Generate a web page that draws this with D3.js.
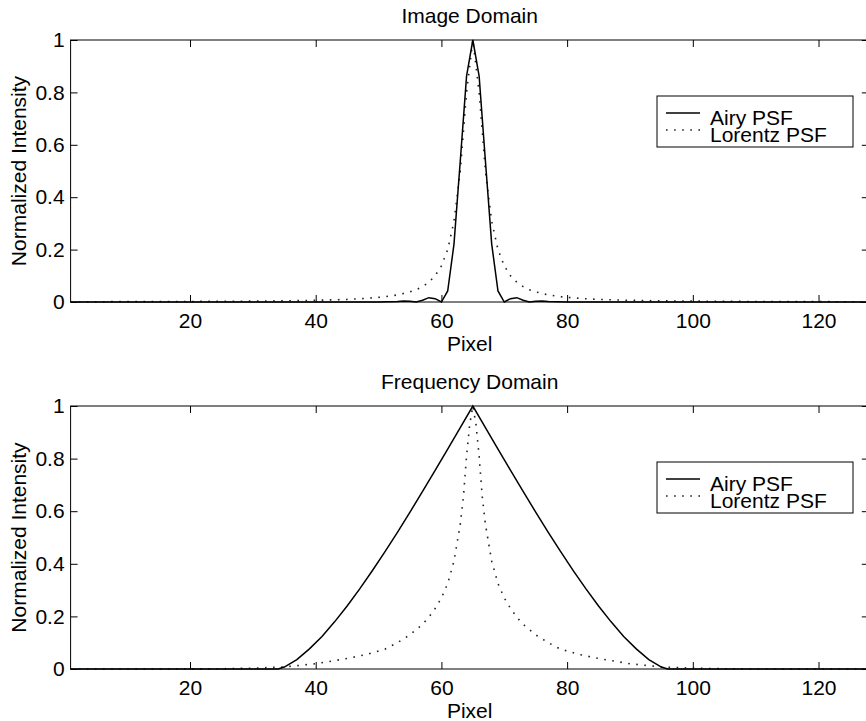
<!DOCTYPE html>
<html>
<head>
<meta charset="utf-8">
<title>Image / Frequency Domain PSF</title>
<style>
  body { margin: 0; background: #fff; }
  svg text { font-family: "Liberation Sans", Arial, Helvetica, sans-serif; font-size: 21px; fill: #000; }
  .axis path { display: none; }
  .axis line { stroke: #000; stroke-width: 1; }
  .airy { fill: none; stroke: #000; stroke-width: 1.5; }
  .lorentz { fill: none; stroke: #222; stroke-width: 1.6; stroke-dasharray: 1.6 6.5; }
</style>
<script src="https://cdn.jsdelivr.net/npm/d3@7"></script>
</head>
<body>
<script>
// ---- data ----
var xTicks = [20, 40, 60, 80, 100, 120];
var yTicks = [0, 0.2, 0.4, 0.6, 0.8, 1];

// image domain, Airy PSF
var imgAiryX = [1, 50, 53, 54, 55, 56, 57, 58, 59, 60, 61, 62, 63, 64, 65, 66, 67, 68, 69, 70, 71, 72, 73, 74, 75, 76, 77, 80, 128];
var imgAiry  = [0, 0, 0.002, 0.004, 0.0025, 0.0001, 0.0067, 0.0165, 0.0128, 0, 0.042, 0.221, 0.538, 0.862, 1,
                0.862, 0.538, 0.221, 0.042, 0, 0.0128, 0.0165, 0.0067, 0.0001, 0.0025, 0.004, 0.002, 0, 0];

// image domain, Lorentz PSF
var imgLorX = [1, 15, 25, 35, 40, 45, 48, 51, 53, 55, 56, 57, 58, 59, 60, 61, 62, 63, 64, 65,
               66, 67, 68, 69, 70, 71, 72, 73, 74, 75, 77, 79, 82, 85, 90, 95, 105, 115, 128];
var imgLor  = [0.001, 0.0016, 0.0025, 0.0044, 0.0064, 0.0099, 0.0137, 0.02, 0.027, 0.0385, 0.0471, 0.0588, 0.0755, 0.1, 0.1379, 0.2, 0.3077, 0.5, 0.8, 1,
               0.8, 0.5, 0.3077, 0.2, 0.1379, 0.1, 0.0755, 0.0588, 0.0471, 0.0385, 0.027, 0.02, 0.0137, 0.0099, 0.0064, 0.0044, 0.0025, 0.0016, 0.001];

// frequency domain, Airy PSF
var freqAiryX = [1, 34, 35, 37, 39, 41, 43, 45, 47, 49, 51, 53, 55, 57, 59, 61, 63, 65,
                 67, 69, 71, 73, 75, 77, 79, 81, 83, 85, 87, 89, 91, 93, 95, 96, 128];
var freqAiry  = [0, 0, 0.0075, 0.0355, 0.0765, 0.1239, 0.1793, 0.2397, 0.3046, 0.3734, 0.4451, 0.5197, 0.5965, 0.6751, 0.7551, 0.8362, 0.9179, 1,
                 0.9179, 0.8362, 0.7551, 0.6751, 0.5965, 0.5197, 0.4451, 0.3734, 0.3046, 0.2397, 0.1793, 0.1239, 0.0765, 0.0355, 0.0075, 0, 0];

// frequency domain, Lorentz PSF
var freqLorX = [1, 20, 25, 30, 35, 40, 45, 48, 51, 53, 55, 57, 58, 59, 60, 61, 62, 63, 63.5, 64, 64.5, 65,
                65.5, 66, 66.5, 67, 68, 69, 70, 71, 72, 73, 75, 77, 79, 82, 85, 90, 95, 100, 105, 110, 128];
var freqLor  = [0, 0, 0.001, 0.003, 0.008, 0.02, 0.04, 0.055, 0.075, 0.1, 0.13, 0.17, 0.197, 0.23, 0.27, 0.325, 0.41, 0.55, 0.655, 0.81, 0.93, 1,
                0.93, 0.81, 0.655, 0.55, 0.41, 0.325, 0.27, 0.23, 0.197, 0.17, 0.13, 0.1, 0.075, 0.055, 0.04, 0.02, 0.008, 0.003, 0.001, 0, 0];

var legendNames = ["Airy PSF", "Lorentz PSF"];

// ---- layout ----
var W = 866, H = 721;
var left = 70.6, right = 868.8;

var svg = d3.select("body").append("svg")
    .attr("width", W)
    .attr("height", H);

var x = d3.scaleLinear().domain([1, 128]).range([left, right]);

function zip(xs, ys) {
  return xs.map(function(d, i) { return [d, ys[i]]; });
}

function panel(top, bottom, title, airy, lor) {
  var y = d3.scaleLinear().domain([0, 1]).range([bottom, top]);
  var g = svg.append("g");

  // frame
  g.append("rect")
      .attr("x", left).attr("y", top)
      .attr("width", right - left).attr("height", bottom - top)
      .attr("fill", "none").attr("stroke", "#000").attr("stroke-width", 1);

  // axes, ticks pointing inwards
  g.append("g").attr("class", "axis")
      .attr("transform", "translate(0," + bottom + ")")
      .call(d3.axisBottom(x).tickValues(xTicks).tickSize(-7).tickPadding(11));
  g.append("g").attr("class", "axis")
      .attr("transform", "translate(0," + top + ")")
      .call(d3.axisTop(x).tickValues(xTicks).tickSize(-7).tickFormat(""));
  g.append("g").attr("class", "axis")
      .attr("transform", "translate(" + left + ",0)")
      .call(d3.axisLeft(y).tickValues(yTicks).tickSize(-7).tickPadding(6).tickFormat(d3.format("~g")));
  g.append("g").attr("class", "axis")
      .attr("transform", "translate(" + right + ",0)")
      .call(d3.axisRight(y).tickValues(yTicks).tickSize(-7).tickFormat(""));

  var line = d3.line()
      .x(function(d) { return x(d[0]); })
      .y(function(d) { return y(d[1]); });

  g.append("path").datum(lor).attr("class", "lorentz").attr("d", line);
  g.append("path").datum(airy).attr("class", "airy").attr("d", line);

  // labels
  g.append("text")
      .attr("x", (left + right) / 2).attr("y", top - 17)
      .attr("text-anchor", "middle").text(title);
  g.append("text")
      .attr("x", (left + right) / 2).attr("y", bottom + 49)
      .attr("text-anchor", "middle").text("Pixel");
  g.append("text")
      .attr("transform", "translate(26," + ((top + bottom) / 2) + ") rotate(-90)")
      .attr("text-anchor", "middle").text("Normalized Intensity");

  // legend
  var lg = g.append("g").attr("transform", "translate(657," + (top + 56) + ")");
  lg.append("rect")
      .attr("width", 196).attr("height", 51)
      .attr("fill", "#fff").attr("stroke", "#000").attr("stroke-width", 1);
  legendNames.forEach(function(name, i) {
    lg.append("line")
        .attr("class", i === 0 ? "airy" : "lorentz")
        .attr("x1", 9).attr("x2", 43)
        .attr("y1", 17 + i * 17).attr("y2", 17 + i * 17);
    lg.append("text")
        .attr("x", 53).attr("y", 29 + i * 17)
        .text(name);
  });
}

panel(40, 302, "Image Domain", zip(imgAiryX, imgAiry), zip(imgLorX, imgLor));
panel(406, 669, "Frequency Domain", zip(freqAiryX, freqAiry), zip(freqLorX, freqLor));
</script>
</body>
</html>
